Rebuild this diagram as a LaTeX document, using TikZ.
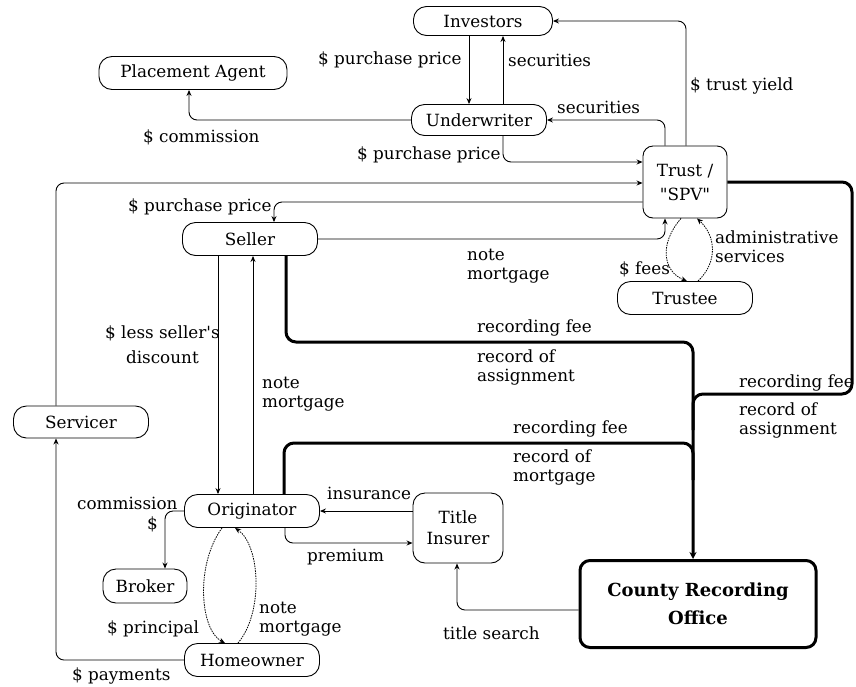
\documentclass[tikz,border=0pt]{standalone}
\usepackage{fontspec}
\newfontfamily\rawserif{DejaVu Serif}
\usetikzlibrary{arrows.meta}
\begin{document}
\begin{tikzpicture}[x=1pt,y=-1pt,
  txt/.style={font=\rawserif\fontsize{16.8}{19}\selectfont},
  box/.style={draw, line width=0.9pt, rounded corners=13pt, inner sep=0pt, txt, align=center},
  lbl/.style={txt, inner sep=0pt, anchor=west, align=left},
  con/.style={line width=0.9pt, rounded corners=8pt, -{Stealth[length=6pt,width=5pt]}},
  heavy/.style={line width=3pt, rounded corners=10pt},
  dcurve/.style={line width=0.8pt, dash pattern=on 1.5pt off 1pt, -{Stealth[length=6pt,width=5pt]}}
]
\useasboundingbox (0,0) rectangle (856,686);

% nodes
\node[box, minimum width=139, minimum height=29] (inv) at (483,21) {Investors};
\node[box, minimum width=135, minimum height=31] (und) at (479,120) {Underwriter};
\node[box, minimum width=188, minimum height=33] (pa) at (193,73) {Placement Agent};
\node[box, rounded corners=10pt, minimum width=84, minimum height=72, font=\rawserif\fontsize{16.8}{24}\selectfont] (trust) at (685,182) {Trust /\\"SPV"};
\node[box, minimum width=135, minimum height=33] (sel) at (250,239) {Seller};
\node[box, minimum width=135, minimum height=33] (tee) at (685,298) {Trustee};
\node[box, minimum width=135, minimum height=32] (srv) at (81,422) {Servicer};
\node[box, minimum width=135, minimum height=33] (org) at (252,511) {Originator};
\node[box, minimum width=84, minimum height=34] (brk) at (145,586) {Broker};
\node[box, minimum width=135, minimum height=33] (home) at (252,660) {Homeowner};
\node[box, rounded corners=12pt, minimum width=90, minimum height=70, font=\rawserif\fontsize{16.8}{21}\selectfont] (ti) at (458,528) {Title\\Insurer};
\node[box, line width=3pt, rounded corners=10pt, minimum width=236, minimum height=87,
      font=\rawserif\fontsize{18}{28}\selectfont\bfseries] (cro) at (698,604) {County Recording\\Office};

% thin connectors
\draw[con] (469,0 |- inv.south) -- (469,0 |- und.north);
\draw[con] (503,0 |- und.north) -- (503,0 |- inv.south);
\draw[con] (686,0 |- trust.north) |- (inv.east);
\draw[con] (665,0 |- trust.north) |- (und.east);
\draw[con] (503,0 |- und.south) |- (trust.west |- 0,162);
\draw[con] (und.west) -| (189,0 |- pa.south);
\draw[con] (56,0 |- srv.north) |- (trust.west |- 0,183);
\draw[con] (trust.west |- 0,202) -| (274,0 |- sel.north);
\draw[con] (sel.east) -| (665,0 |- trust.south);
\draw[con] (218,0 |- sel.south) -- (218,0 |- org.north);
\draw[con] (253,0 |- org.north) -- (253,0 |- sel.south);
\draw[con] (ti.west |- org.east) -- (org.east);
\draw[con] (285,0 |- org.south) |- (ti.west |- 0,543);
\draw[con] (org.west) -| (165,0 |- brk.north);
\draw[con] (home.west) -| (56,0 |- srv.south);
\draw[con] (cro.west |- 0,610) -| (457,0 |- ti.south);

% dashed loops
\draw[dcurve] (681,0 |- trust.south) .. controls (658,245) and (664,272) .. (687,0 |- tee.north);
\draw[dcurve] (698,0 |- tee.north) .. controls (718,262) and (716,236) .. (697,0 |- trust.south);
\draw[dcurve] (222,0 |- org.south) .. controls (195,565) and (200,630) .. (225,0 |- home.north);
\draw[dcurve] (238,0 |- home.north) .. controls (264,612) and (260,545) .. (235,0 |- org.south);

% heavy connectors
\draw[heavy, -{Stealth[length=7pt,width=7pt]}] (286,0 |- sel.south) |- (693,342) -- (693,0 |- cro.north);
\draw[heavy] (trust.east) -| (852,394) -- (693,394) -- (693,430);
\draw[heavy] (284,0 |- org.north) |- (693,443) -- (693,480);

% labels
\node[lbl] at (318,60) {\$ purchase price};
\node[lbl] at (508,60) {securities};
\node[lbl] at (690,86) {\$ trust yield};
\node[lbl] at (557,107) {securities};
\node[lbl] at (357,155) {\$ purchase price};
\node[lbl] at (143,137) {\$ commission};
\node[lbl] at (128,207) {\$ purchase price};
\node[lbl] at (467,266) {note\\mortgage};
\node[lbl] at (619,269) {\$ fees};
\node[lbl] at (715,247) {administrative\\services};
\node[lbl] at (477,328) {recording fee};
\node[lbl] at (477,367) {record of\\assignment};
\node[lbl] at (739,383) {recording fee};
\node[lbl] at (739,420) {record of\\assignment};
\node[lbl] at (513,429) {recording fee};
\node[lbl] at (513,467) {record of\\mortgage};
\node[lbl, align=center, font=\rawserif\fontsize{16.8}{25}\selectfont] at (105,345) {\$ less seller's\\discount};
\node[lbl] at (262,394) {note\\mortgage};
\node[lbl] at (327,493) {insurance};
\node[lbl] at (77,503) {commission};
\node[lbl] at (147,524) {\$};
\node[lbl] at (307,557) {premium};
\node[lbl] at (107,629) {\$ principal};
\node[lbl] at (259,619) {note\\mortgage};
\node[lbl] at (72,676) {\$ payments};
\node[lbl] at (443,633) {title search};
\end{tikzpicture}
\end{document}
